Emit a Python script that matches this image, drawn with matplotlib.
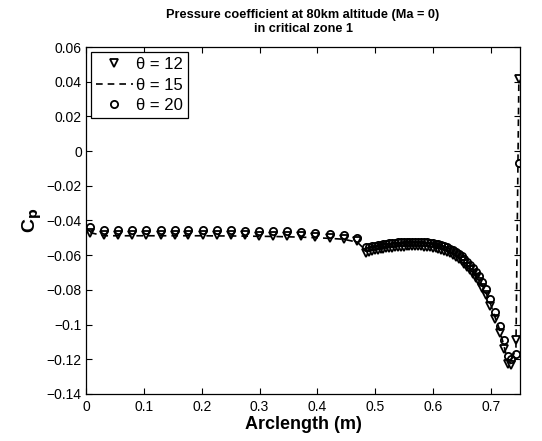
import matplotlib
matplotlib.use("Agg")
import matplotlib.pyplot as plt

plt.rcParams["font.family"] = ["Liberation Sans", "DejaVu Sans"]

# arclength positions (m), shared by all three cases
arclength = [
    0.007, 0.031, 0.056, 0.080, 0.104, 0.129, 0.153, 0.177, 0.202, 0.226,
    0.250, 0.275, 0.299, 0.323, 0.348, 0.372, 0.396, 0.421, 0.445, 0.469,
    0.484, 0.489, 0.494, 0.499, 0.504, 0.509, 0.514, 0.519, 0.524, 0.529,
    0.534, 0.539, 0.544, 0.549, 0.554, 0.559, 0.564, 0.569, 0.574, 0.579,
    0.584, 0.589, 0.594, 0.599, 0.604, 0.609, 0.614, 0.619, 0.624, 0.629,
    0.634, 0.639, 0.644, 0.649, 0.654, 0.659, 0.664, 0.669, 0.674, 0.679,
    0.685, 0.691, 0.698, 0.706, 0.715, 0.722, 0.729, 0.734, 0.743, 0.748,
]

cp_theta12 = [
    -0.0470, -0.0484, -0.0484, -0.0484, -0.0484, -0.0484, -0.0484, -0.0484, -0.0484, -0.0485,
    -0.0485, -0.0486, -0.0487, -0.0488, -0.0490, -0.0492, -0.0495, -0.0499, -0.0505, -0.0520,
    -0.0585, -0.0580, -0.0576, -0.0572, -0.0569, -0.0566, -0.0563, -0.0560, -0.0558, -0.0556,
    -0.0554, -0.0552, -0.0551, -0.0550, -0.0549, -0.0548, -0.0548, -0.0548, -0.0548, -0.0549,
    -0.0550, -0.0551, -0.0553, -0.0556, -0.0559, -0.0563, -0.0568, -0.0574, -0.0581, -0.0590,
    -0.0599, -0.0610, -0.0622, -0.0636, -0.0651, -0.0668, -0.0686, -0.0707, -0.0730, -0.0755,
    -0.0790, -0.0832, -0.0890, -0.0965, -0.1050, -0.1140, -0.1225, -0.1235, -0.1090, 0.0415,
]

cp_theta15 = [
    -0.0470, -0.0488, -0.0488, -0.0488, -0.0488, -0.0488, -0.0488, -0.0488, -0.0488, -0.0489,
    -0.0489, -0.0490, -0.0491, -0.0492, -0.0494, -0.0496, -0.0499, -0.0503, -0.0508, -0.0525,
    -0.0575, -0.0571, -0.0568, -0.0565, -0.0562, -0.0559, -0.0556, -0.0554, -0.0552, -0.0550,
    -0.0548, -0.0546, -0.0545, -0.0544, -0.0543, -0.0542, -0.0542, -0.0542, -0.0542, -0.0543,
    -0.0544, -0.0545, -0.0547, -0.0550, -0.0553, -0.0557, -0.0562, -0.0568, -0.0575, -0.0583,
    -0.0592, -0.0602, -0.0614, -0.0627, -0.0642, -0.0658, -0.0676, -0.0696, -0.0718, -0.0742,
    -0.0775, -0.0815, -0.0870, -0.0950, -0.1030, -0.1120, -0.1210, -0.1225, -0.1130, 0.0400,
]

cp_theta20 = [
    -0.0440, -0.0455, -0.0455, -0.0455, -0.0455, -0.0455, -0.0455, -0.0455, -0.0456, -0.0456,
    -0.0457, -0.0458, -0.0459, -0.0461, -0.0463, -0.0466, -0.0470, -0.0475, -0.0482, -0.0500,
    -0.0555, -0.0552, -0.0549, -0.0546, -0.0543, -0.0540, -0.0537, -0.0535, -0.0532, -0.0530,
    -0.0528, -0.0526, -0.0525, -0.0524, -0.0523, -0.0522, -0.0522, -0.0522, -0.0522, -0.0523,
    -0.0524, -0.0525, -0.0527, -0.0530, -0.0533, -0.0537, -0.0542, -0.0548, -0.0555, -0.0563,
    -0.0572, -0.0582, -0.0594, -0.0607, -0.0622, -0.0638, -0.0656, -0.0676, -0.0698, -0.0722,
    -0.0755, -0.0795, -0.0850, -0.0925, -0.1010, -0.1090, -0.1180, -0.1200, -0.1170, -0.0070,
]

x_ticks = [0, 0.1, 0.2, 0.3, 0.4, 0.5, 0.6, 0.7]
y_ticks = [0.06, 0.04, 0.02, 0, -0.02, -0.04, -0.06, -0.08, -0.1, -0.12, -0.14]
y_tick_labels = ["0.06", "0.04", "0.02", "0", "\u22120.02", "\u22120.04", "\u22120.06",
                 "\u22120.08", "\u22120.1", "\u22120.12", "\u22120.14"]

fig = plt.figure(figsize=(5.42, 4.41), dpi=100)
ax = fig.add_axes([0.1587, 0.1066, 0.8007, 0.7868])

ax.plot(arclength, cp_theta12, linestyle="none", marker="v", markersize=6,
        markerfacecolor="white", markeredgecolor="black", markeredgewidth=1.3,
        label="\u03b8 = 12")
ax.plot(arclength, cp_theta15, linestyle=(0, (4, 3)), color="black", linewidth=1.2,
        label="\u03b8 = 15")
ax.plot(arclength, cp_theta20, linestyle="none", marker="o", markersize=5.2,
        markerfacecolor="none", markeredgecolor="black", markeredgewidth=1.3,
        label="\u03b8 = 20")

ax.set_xlim(0, 0.75)
ax.set_ylim(-0.14, 0.06)
ax.set_xticks(x_ticks)
ax.set_xticklabels([f"{t:g}" for t in x_ticks])
ax.set_yticks(y_ticks)
ax.set_yticklabels(y_tick_labels)
ax.tick_params(direction="in", top=True, right=True, length=4, width=0.8,
               labelsize=10, pad=3)
ax.tick_params(axis="x", pad=4)
for spine in ax.spines.values():
    spine.set_linewidth(0.9)

ax.set_title("Pressure coefficient at 80km altitude (Ma = 0)\nin critical zone 1",
             fontsize=9.2, fontweight="bold", pad=11, linespacing=1.2)
ax.set_xlabel("Arclength (m)", fontsize=13, fontweight="bold", labelpad=2)
ax.set_ylabel("C$_\\mathbf{p}$", fontsize=14, fontweight="bold", labelpad=2)

leg = ax.legend(loc="upper left", fontsize=12, handlelength=2.2, handletextpad=0.2,
                borderpad=0.3, labelspacing=0.33, borderaxespad=0.3, fancybox=False,
                framealpha=1, edgecolor="black")
leg.get_frame().set_linewidth(0.9)

fig.savefig("out.png", dpi=100)
